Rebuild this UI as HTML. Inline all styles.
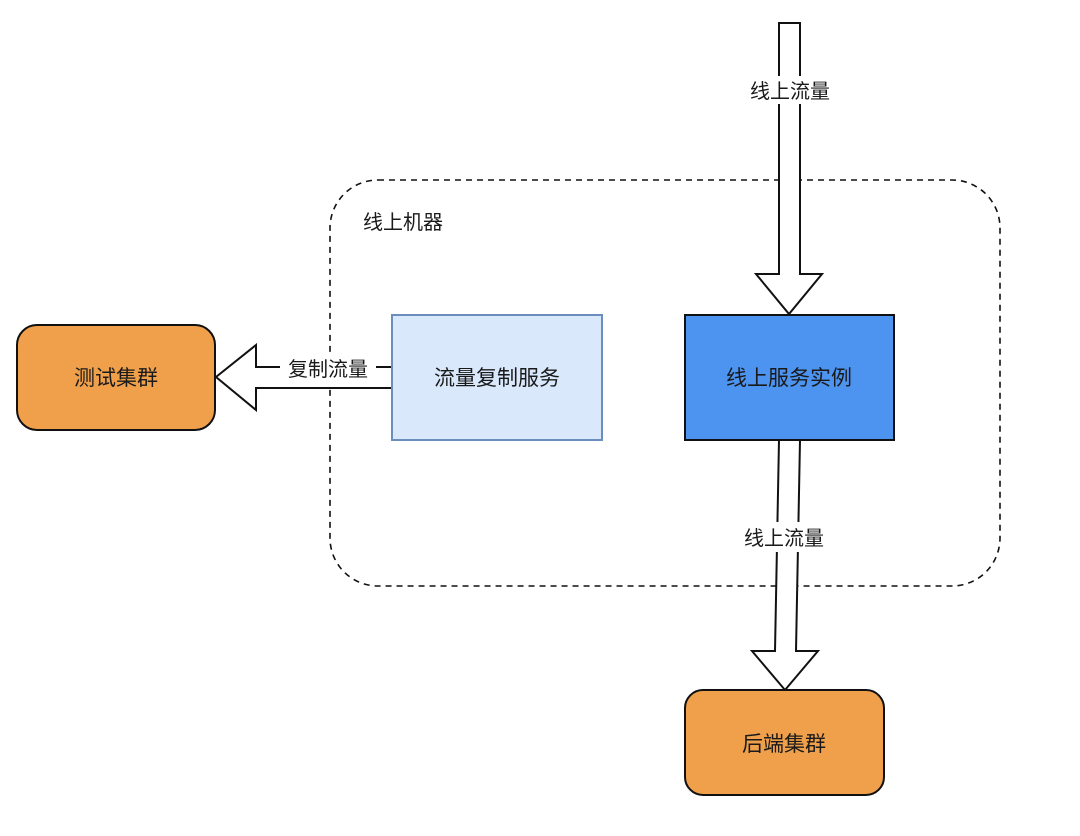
<!DOCTYPE html>
<html><head><meta charset="utf-8"><style>
body{margin:0;background:#fff;}
svg text{font-family:"Liberation Sans","Noto Sans CJK SC",sans-serif;fill:#1a1a1a;}
</style></head><body>
<svg width="1080" height="831" viewBox="0 0 1080 831" xmlns="http://www.w3.org/2000/svg">
<rect x="330" y="180" width="670" height="406" rx="48" fill="none" stroke="#111" stroke-width="1.6" stroke-dasharray="6,5"/>
<text x="363" y="229" font-size="20">线上机器</text>
<!-- top arrow -->
<path d="M779,23 L800,23 L800,274 L822,274 L789,314 L756,274 L779,274 Z" fill="#fff" stroke="#111" stroke-width="2"/>
<rect x="745" y="76" width="90" height="28" fill="#fff"/>
<text x="790" y="98" font-size="20" text-anchor="middle">线上流量</text>
<!-- bottom arrow -->
<path d="M779,440 L800,440 L796,651 L818,651 L785,690 L752,651 L775,651 Z" fill="#fff" stroke="#111" stroke-width="2"/>
<rect x="733" y="522" width="96" height="30" fill="#fff"/>
<text x="784" y="545" font-size="20" text-anchor="middle">线上流量</text>
<!-- left arrow -->
<path d="M392,367 L256,367 L256,345 L216,377 L256,410 L256,388 L392,388 Z" fill="#fff" stroke="#111" stroke-width="2"/>
<rect x="280" y="355" width="96" height="28" fill="#fff"/>
<text x="328" y="376" font-size="20" text-anchor="middle">复制流量</text>
<!-- boxes -->
<rect x="17" y="325" width="198" height="105" rx="20" fill="#F0A04B" stroke="#111" stroke-width="2"/>
<text x="116" y="385" font-size="21" text-anchor="middle">测试集群</text>
<rect x="392" y="315" width="210" height="125" fill="#dae8fc" stroke="#6c8ebf" stroke-width="2"/>
<text x="497" y="385" font-size="21" text-anchor="middle">流量复制服务</text>
<rect x="685" y="315" width="209" height="125" fill="#4C94F0" stroke="#111" stroke-width="2"/>
<text x="789" y="385" font-size="21" text-anchor="middle">线上服务实例</text>
<rect x="685" y="690" width="199" height="105" rx="18" fill="#F0A04B" stroke="#111" stroke-width="2"/>
<text x="784" y="751" font-size="21" text-anchor="middle">后端集群</text>
</svg>
</body></html>
